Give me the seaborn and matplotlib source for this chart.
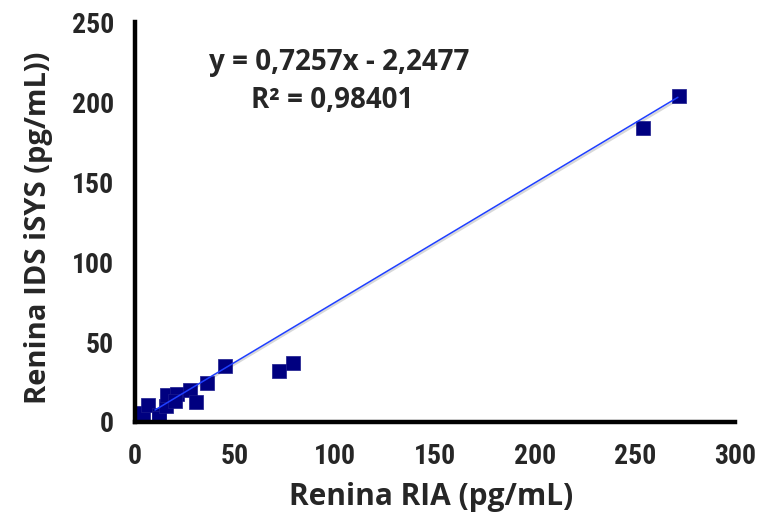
import matplotlib
matplotlib.use('Agg')
import matplotlib.pyplot as plt
import seaborn as sns
import pandas as pd

# data
ria = [4, 6.5, 12, 12, 15.5, 16, 21, 20, 27.5, 30.5, 36, 45, 72, 79, 254, 272]
isys = [5.5, 10.5, 4.5, 2.5, 10, 17, 17.5, 13, 20, 12.5, 24.5, 35, 32, 37, 184, 204]

# regression line end points (as drawn in the chart)
fit_x = [10, 271.5]
fit_y = [7.5, 203]
shadow_y = [6.3, 201.5]

x_ticks = [0, 50, 100, 150, 200, 250, 300]
y_ticks = [0, 50, 100, 150, 200, 250]

eq_text = 'y = 0,7257x - 2,2477'
r2_text = 'R² = 0,98401'

sns.set_style('white')
plt.rcParams['font.family'] = ['Roboto Condensed', 'DejaVu Sans']

df = pd.DataFrame({'ria': ria, 'isys': isys})
fit = pd.DataFrame({'x': fit_x, 'y': fit_y})
shadow = pd.DataFrame({'x': fit_x, 'y': shadow_y})

fig = plt.figure(figsize=(7.69, 5.22), dpi=100)
ax = fig.add_axes([0.1756, 0.1916, 0.780, 0.766])

sns.lineplot(data=shadow, x='x', y='y', ax=ax, color='#d8d8d8', linewidth=1.6, zorder=1)
sns.lineplot(data=fit, x='x', y='y', ax=ax, color='#1f3fff', linewidth=1.1, zorder=3)
sns.scatterplot(data=df, x='ria', y='isys', ax=ax, marker='s', s=100,
                color='#000080', edgecolor='#1a1a8c', linewidth=0.5, zorder=2)

ax.set_xlim(0, 300)
ax.set_ylim(0, 250)
ax.set_xticks(x_ticks)
ax.set_yticks(y_ticks)
ax.set_xticklabels([str(t) for t in x_ticks], fontsize=20, fontweight='bold')
ax.set_yticklabels([str(t) for t in y_ticks], fontsize=20, fontweight='bold')

for s in ['top', 'right']:
    ax.spines[s].set_visible(False)
for s in ['left', 'bottom']:
    ax.spines[s].set_linewidth(3.2)
    ax.spines[s].set_color('black')
ax.tick_params(axis='both', direction='out', length=11, width=3, color='black', pad=4)

lab_font = ['Open Sans', 'DejaVu Sans']
ax.set_xlabel('Renina RIA (pg/mL)', fontsize=21.5, fontweight='bold', family=lab_font)
ax.set_ylabel('Renina IDS iSYS (pg/mL))', fontsize=21, fontweight='bold', family=lab_font)
ax.xaxis.set_label_coords(0.494, -0.15)
ax.yaxis.set_label_coords(-0.137, 0.485)

ax.text(102, 225, eq_text, ha='center', va='center', fontsize=20, fontweight='bold', family=lab_font)
ax.text(98.5, 201, r2_text, ha='center', va='center', fontsize=20, fontweight='bold', family=lab_font)

fig.savefig('out.png', dpi=100)
